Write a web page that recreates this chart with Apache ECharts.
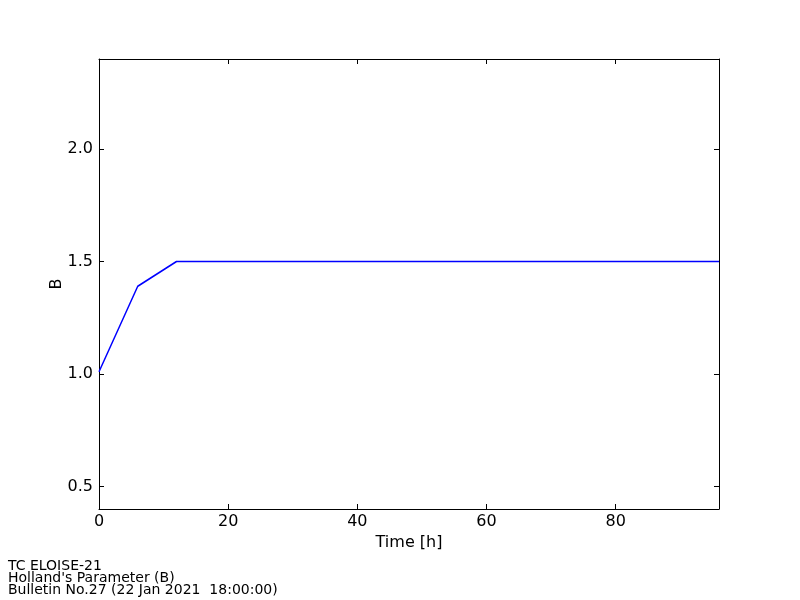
<!DOCTYPE html>
<html>
<head>
<meta charset="utf-8">
<script src="https://cdn.jsdelivr.net/npm/echarts@6/dist/echarts.min.js"></script>
<style>html,body{margin:0;padding:0;background:#fff}#c{width:800px;height:600px}</style>
</head>
<body>
<div id="c"></div>
<script>
const timeHours = [0, 6, 12, 18, 24, 30, 36, 42, 48, 54, 60, 66, 72, 78, 84, 90, 96];
const bValues = [1.01, 1.39, 1.5, 1.5, 1.5, 1.5, 1.5, 1.5, 1.5, 1.5, 1.5, 1.5, 1.5, 1.5, 1.5, 1.5, 1.5];
const xTicks = [0, 20, 40, 60, 80];
const yTicks = [0.5, 1.0, 1.5, 2.0];
const footerLines = ["TC ELOISE-21", "Holland's Parameter (B)", "Bulletin No.27 (22 Jan 2021  18:00:00)"];

const font = 'DejaVu Sans';
const chart = echarts.init(document.getElementById('c'), null, {renderer: 'canvas'});
const tickStyle = {show: true, inside: true, length: 5, lineStyle: {color: '#000', width: 1}};
const lineStyle = {show: true, onZero: false, lineStyle: {color: '#000', width: 1}};
chart.setOption({
  animation: false,
  backgroundColor: '#fff',
  grid: {left: 99, right: 81, top: 59, bottom: 91, containLabel: false},
  xAxis: [{
    type: 'value', min: 0, max: 96, position: 'bottom',
    name: 'Time [h]', nameLocation: 'middle', nameGap: 26, nameMoveOverlap: false,
    nameTextStyle: {fontFamily: font, fontSize: 16, color: '#000'},
    axisLine: lineStyle,
    axisTick: Object.assign({customValues: xTicks}, tickStyle),
    axisLabel: {customValues: xTicks, fontFamily: font, fontSize: 16, color: '#000', margin: 5, formatter: v => String(v)},
    splitLine: {show: false}
  }, {
    type: 'value', min: 0, max: 96, position: 'top',
    axisLine: lineStyle,
    axisTick: Object.assign({customValues: xTicks}, tickStyle),
    axisLabel: {show: false},
    splitLine: {show: false}
  }],
  yAxis: [{
    type: 'value', min: 0.4, max: 2.4, position: 'left',
    name: 'B', nameLocation: 'middle', nameGap: 34, nameMoveOverlap: false,
    nameTextStyle: {fontFamily: font, fontSize: 16, color: '#000'},
    axisLine: lineStyle,
    axisTick: Object.assign({customValues: yTicks}, tickStyle),
    axisLabel: {customValues: yTicks, fontFamily: font, fontSize: 16, color: '#000', margin: 6, formatter: v => v.toFixed(1)},
    splitLine: {show: false}
  }, {
    type: 'value', min: 0.4, max: 2.4, position: 'right',
    axisLine: lineStyle,
    axisTick: Object.assign({customValues: yTicks}, tickStyle),
    axisLabel: {show: false},
    splitLine: {show: false}
  }],
  series: [{
    type: 'line',
    data: timeHours.map((t, i) => [t, bValues[i]]),
    showSymbol: false,
    lineStyle: {color: '#0000ff', width: 1.5},
    itemStyle: {color: '#0000ff'}
  }],
  graphic: footerLines.map((t, i) => ({
    type: 'text', left: 8, top: 559 + i * 12,
    style: {text: t, fontFamily: font, fontSize: 14, fill: '#000'}
  }))
});
</script>
</body>
</html>
